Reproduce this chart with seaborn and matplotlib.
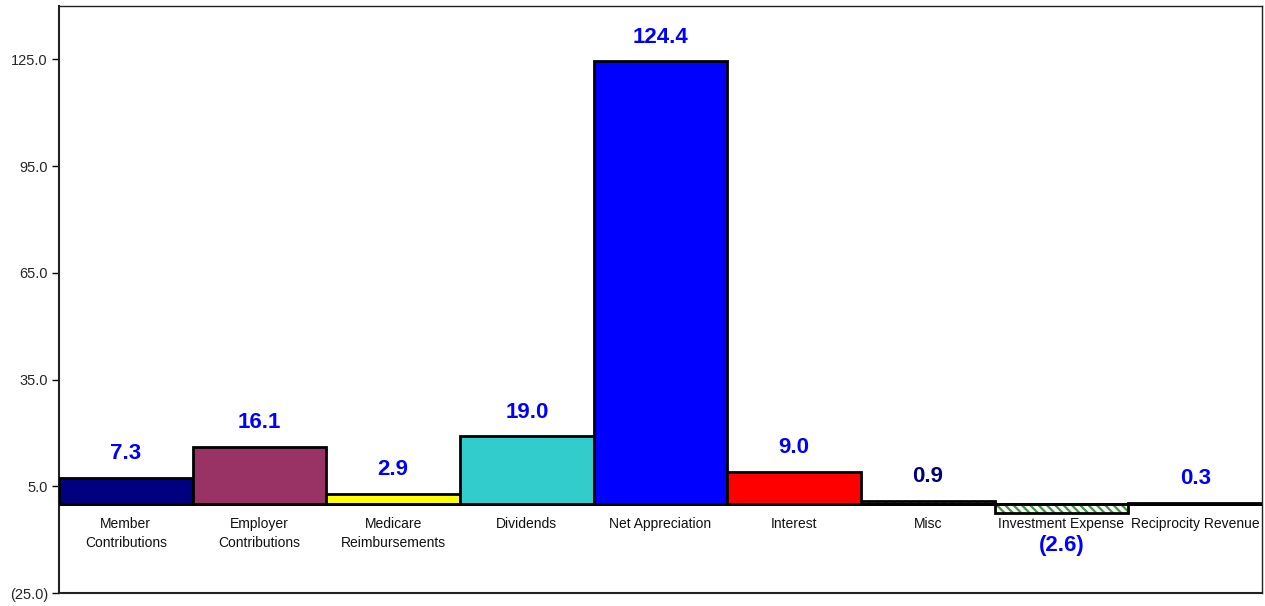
import matplotlib
matplotlib.use("Agg")
import matplotlib.pyplot as plt
import seaborn as sns
import pandas as pd
import matplotlib.transforms as mtransforms
from matplotlib.colors import to_rgba

categories = ["Member\nContributions", "Employer\nContributions", "Medicare\nReimbursements",
              "Dividends", "Net Appreciation", "Interest", "Misc",
              "Investment Expense", "Reciprocity Revenue"]
values = [7.3, 16.1, 2.9, 19.0, 124.4, 9.0, 0.9, -2.6, 0.3]
value_labels = ["7.3", "16.1", "2.9", "19.0", "124.4", "9.0", "0.9", "(2.6)", "0.3"]
bar_colors = ["#000080", "#993366", "#FFFF00", "#33CCCC", "#0000FF", "#FF0000",
              "#FFFFFF", "#FFFFFF", "#000000"]
label_colors = ["#0000FF"] * 6 + ["#000080", "#0000FF", "#0000FF"]
yticks = [-25, 5, 35, 65, 95, 125]
ytick_labels = ["(25.0)", "5.0", "35.0", "65.0", "95.0", "125.0"]

sns.set_theme(style="white")
plt.rcParams["font.family"] = ["Liberation Sans", "DejaVu Sans"]
plt.rcParams["hatch.linewidth"] = 1.6

fig = plt.figure(figsize=(12.65, 6.06), dpi=100)
ax = fig.add_axes([59 / 1265, 1 - 593 / 606, (1262 - 59) / 1265, (593 - 6) / 606])

df = pd.DataFrame({"cat": categories, "val": values})
sns.barplot(data=df, x="cat", y="val", hue="cat", palette=bar_colors, legend=False,
            width=1.0, edgecolor="black", linewidth=2, saturation=1, ax=ax, zorder=3)

for i, p in enumerate(ax.patches):
    if i in (6, 7):
        p.set_hatch("\\\\\\\\")
        p._hatch_color = to_rgba("#3A9A3A")

ax.axhline(0, color="black", lw=2, zorder=4)
ax.set_xlim(-0.5, len(categories) - 0.5)
ax.set_ylim(-25, 140)
ax.set_yticks(yticks)
ax.set_yticklabels(ytick_labels, fontsize=10.5)
ax.set_xticks([])
ax.set_xlabel("")
ax.set_ylabel("")
ax.tick_params(axis="y", which="both", left=True, length=5, width=1, color="black", pad=3)
for s in ["left", "bottom"]:
    ax.spines[s].set_color("#222222")
    ax.spines[s].set_linewidth(1.5)
for s in ["top", "right"]:
    ax.spines[s].set_color("#222222")
    ax.spines[s].set_linewidth(1.0)

# category labels just under the zero line
for i, c in enumerate(categories):
    trans = mtransforms.offset_copy(ax.transData, fig=fig, x=0, y=-9.5, units="points")
    ax.text(i, 0, c, transform=trans, ha="center", va="top", fontsize=10,
            linespacing=1.45, color="#111111")

# value labels
for i, (v, t) in enumerate(zip(values, value_labels)):
    if v >= 0:
        trans = mtransforms.offset_copy(ax.transData, fig=fig, x=0, y=17.5, units="points")
    else:
        trans = mtransforms.offset_copy(ax.transData, fig=fig, x=0, y=-23, units="points")
    ax.text(i, v, t, transform=trans, ha="center", va="center", fontsize=16,
            fontweight="bold", color=label_colors[i])

fig.savefig("out.png", dpi=100)
